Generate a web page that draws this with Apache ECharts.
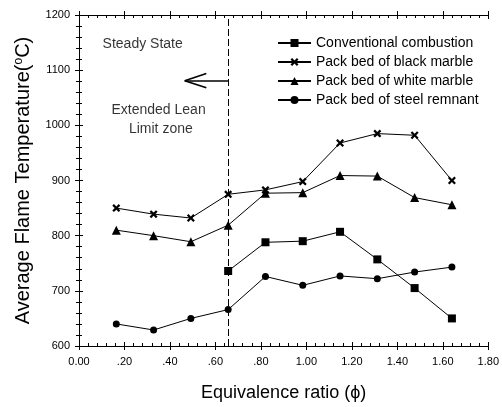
<!DOCTYPE html>
<html>
<head>
    <meta charset="UTF-8">
    <title>Average Flame Temperature</title>
    <script src="https://cdn.jsdelivr.net/npm/echarts@6/dist/echarts.min.js"></script>
    <style>
        html, body { margin: 0; padding: 0; background: #fff; }
        #box { width: 502px; height: 407px; }
    </style>
</head>
<body>
    <div id="box"></div>
    <script>
        // 当量比 (phi)
        const phi = [0.164, 0.328, 0.492, 0.656, 0.820, 0.984, 1.148, 1.312, 1.476, 1.640]
        const conventional = [null, null, null, 736, 788, 790, 807, 757, 705, 650]
        const blackMarble = [850, 839, 832, 875, 883, 898, 968, 985, 982, 900]
        const whiteMarble = [810, 800, 789, 819, 877, 878, 909, 908, 869, 856]
        const steelRemnant = [640, 629, 650, 666, 726, 710, 727, 722, 734, 743]
        const seriesNames = ['Conventional combustion', 'Pack bed of black marble', 'Pack bed of white marble', 'Pack bed of steel remnant']
        const xTickLabels = ['0.00', '.20', '.40', '.60', '.80', '1.00', '1.20', '1.40', '1.60', '1.80']
        const yTickLabels = ['600', '700', '800', '900', '1000', '1100', '1200']
        const leanLimit = 0.656
        const notes = [[0.28, 1147, 'Steady State'], [0.35, 1028, 'Extended Lean'], [0.36, 993, 'Limit zone']]
        // 箭头: 起点(虚线处) -> 尖端, 以及两条箭翼
        const arrowY = 1081
        const arrowTip = 0.465
        const arrowWing = [0.56, 13]

        const font = 'Liberation Sans, Arial, sans-serif'
        const crossPath = 'path://M0,2 L2,0 L5,3 L8,0 L10,2 L7,5 L10,8 L8,10 L5,7 L2,10 L0,8 L3,5 Z'

        function pair(list) {
            return phi.map((x, i) => [x, list[i]])
        }

        // 每条边两根轴：一根画向内的刻度，一根画向外的刻度
        function xAxisDef(pos, labels, outside) {
            return {
                type: 'value', position: pos, min: 0, max: 1.8, interval: 0.2,
                splitLine: { show: false },
                axisLine: { show: !outside, lineStyle: { color: '#000', width: 1 } },
                axisTick: { show: true, inside: !outside, length: 4, lineStyle: { color: '#000' } },
                minorTick: { show: !outside, splitNumber: 5, length: 3, lineStyle: { color: '#000' } },
                axisLabel: {
                    show: labels, margin: 10, color: '#000', fontSize: 11, fontFamily: font,
                    formatter: v => xTickLabels[Math.round(v / 0.2)]
                }
            }
        }
        function yAxisDef(pos, labels, outside) {
            return {
                type: 'value', position: pos, min: 600, max: 1200, interval: 100,
                splitLine: { show: false },
                axisLine: { show: !outside, lineStyle: { color: '#000', width: 1 } },
                axisTick: { show: true, inside: !outside, length: 4, lineStyle: { color: '#000' } },
                minorTick: { show: !outside, splitNumber: 5, length: 3, lineStyle: { color: '#000' } },
                axisLabel: {
                    show: labels, margin: 9, color: '#000', fontSize: 11, fontFamily: font,
                    formatter: v => yTickLabels[Math.round((v - 600) / 100)]
                }
            }
        }

        const xMain = xAxisDef('bottom', true, false)
        xMain.name = 'Equivalence ratio (\u03d5)'
        xMain.nameLocation = 'middle'
        xMain.nameGap = 38
        xMain.nameTextStyle = { color: '#000', fontSize: 18, fontFamily: font }

        const yMain = yAxisDef('left', true, false)
        yMain.name = '{a|Average Flame Temperature(}{s|o}{a|C)}'
        yMain.nameLocation = 'middle'
        yMain.nameGap = 45
        yMain.nameTextStyle = {
            rich: {
                a: { color: '#000', fontSize: 20, fontFamily: font },
                s: { color: '#000', fontSize: 12, fontFamily: font, padding: [0, 0, 9, 0] }
            }
        }

        function lineSeries(name, list, symbol, size) {
            return {
                name: name, type: 'line', data: pair(list),
                symbol: symbol, symbolSize: size, showAllSymbol: true,
                lineStyle: { color: '#000', width: 1 },
                itemStyle: { color: '#000' },
                connectNulls: false
            }
        }

        const solid = { type: 'solid', width: 1.6, color: '#000' }

        const myChart = echarts.init(document.getElementById('box'))
        const option = {
            animation: false,
            backgroundColor: '#fff',
            grid: { left: 79, right: 13, top: 15, bottom: 61 },
            legend: {
                data: seriesNames,
                orient: 'vertical', left: 272, top: 31,
                itemWidth: 33, itemHeight: 10, itemGap: 5,
                textStyle: { color: '#000', fontSize: 14, fontFamily: font, lineHeight: 14 }
            },
            xAxis: [xMain, xAxisDef('bottom', false, true), xAxisDef('top', false, false), xAxisDef('top', false, true)],
            yAxis: [yMain, yAxisDef('left', false, true), yAxisDef('right', false, false), yAxisDef('right', false, true)],
            series: [
                lineSeries(seriesNames[0], conventional, 'rect', 8),
                lineSeries(seriesNames[1], blackMarble, crossPath, 8),
                lineSeries(seriesNames[2], whiteMarble, 'triangle', 9),
                lineSeries(seriesNames[3], steelRemnant, 'circle', 7),
                {
                    // 注释文字、虚线、箭头
                    name: 'notes', type: 'scatter', data: notes, symbolSize: 0, silent: true,
                    label: {
                        show: true, position: 'inside', color: '#000', fontSize: 14, fontFamily: font,
                        formatter: p => p.value[2]
                    },
                    markLine: {
                        silent: true, symbol: ['none', 'none'],
                        label: { show: false },
                        data: [
                            [{ coord: [leanLimit, 600], lineStyle: { type: [7, 3], width: 1, color: '#000' } },
                             { coord: [leanLimit, 1200] }],
                            [{ coord: [leanLimit, arrowY], lineStyle: solid }, { coord: [arrowTip, arrowY] }],
                            [{ coord: [arrowTip, arrowY], lineStyle: solid }, { coord: [arrowWing[0], arrowY + arrowWing[1]] }],
                            [{ coord: [arrowTip, arrowY], lineStyle: solid }, { coord: [arrowWing[0], arrowY - arrowWing[1]] }]
                        ]
                    }
                }
            ]
        }
        myChart.setOption(option)
    </script>
</body>
</html>
